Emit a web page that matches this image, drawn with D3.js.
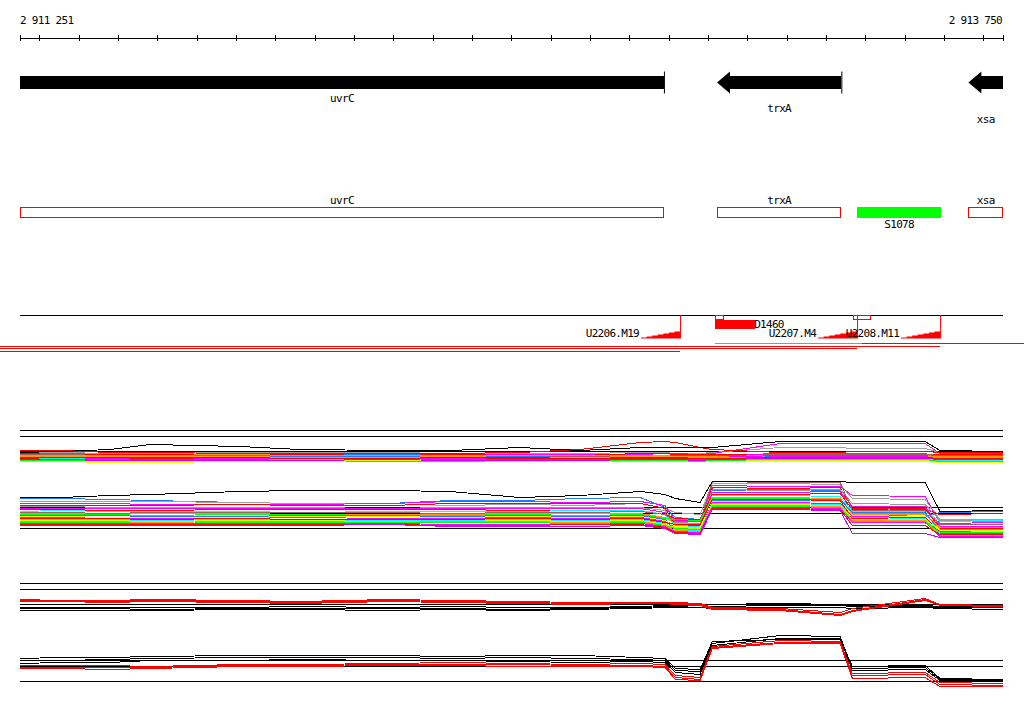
<!DOCTYPE html>
<html>
<head>
<meta charset="utf-8">
<script src="https://cdn.jsdelivr.net/npm/d3@7"></script>
<style>
body { margin: 0; background: #fff; }
text { font-family: "DejaVu Sans Mono", monospace; font-size: 11px; letter-spacing: -0.7px; fill: #000; }
</style>
</head>
<body>
<svg width="1024" height="714"></svg>
<script>
const svg = d3.select("svg")
const width = +svg.attr("width")
const height = +svg.attr("height")

// view window (bp)
const viewStart = 2911251
const viewEnd = 2913750

// annotated genes, all on the minus strand
const geneNames = ["uvrC", "trxA", "xsa"]
const geneStarts = [2909400, 2913023, 2913662]
const geneEnds = [2912888, 2913339, 2914300]

// small RNA / segment features
const featNames = ["S1078"]
const featStarts = [2913379]
const featEnds = [2913593]

// transcription units
const tssNames = ["U2206.M19", "U2207.M4", "U2208.M11"]
const tssPos = [2912929, 2913379, 2913590]
const stairSteps = [1, 2, 3, 4, 5, 6, 7, 7]

const dNames = ["D1460"]
const dStarts = [2913018]
const dEnds = [2913120]
const boxStarts = [2913018, 2913369]
const boxEnds = [2913039, 2913412]

// transcript spans under the track
const spanStarts = [2913018, 2913392, 2910000, 2910000, 2910000]
const spanEnds = [2913392, 2914500, 2913590, 2913379, 2912929]
const spanRows = [0, 0, 1, 2, 3]
const spanColors = ["#00ff00", "#ff0000", "#ff0000", "#ff0000", "#ff0000"]

// probe positions shared by the expression tracks
const probePos = [2911251, 2911353, 2911480, 2911582, 2911810, 2911963, 2912192, 2912344, 2912522, 2912675,
  2912828, 2912891, 2912917, 2912980, 2913011, 2913184, 2913336, 2913367, 2913552, 2913590, 2913750]

const sampleColors = ["#1e7cff", "#a0a0a0", "#ff00ff", "#ff0000", "#999999", "#ff00ff", "#ff0000", "#00ffff",
  "#a06060", "#ff9900", "#00ff00", "#1e7cff", "#ffff00", "#ff00ff", "#ff0000", "#00ffff", "#c8ff00",
  "#ff9900", "#00ff00", "#ff00ff", "#ff0000", "#cc00ff"]

// strand track, one row per sample
const upperSamples = [
  [-2,-2,-3,-3,-4,-3,-3,-4,-3,-3,-4,-4,-4,-4,-3,-5,-5,-5,-5,-4,-4],
  [-1,-1,-2,-2,-1,-1,-1,-2,-2,-2,-1,-1,-2,-2,-1,4,4,3,3,-1,-1],
  [-3,-3,-3,-4,-4,-4,-4,-3,-3,-3,-3,-2,-2,-3,-2,8,8,8,8,-2,-2],
  [1,1,-1,-1,-2,-2,-2,-2,-1,2,9,10,9,4,2,-1,-1,0,0,-1,-1],
  [-4,-4,-4,-5,-5,-5,-5,-5,-4,-4,-4,-4,-5,-5,-4,-3,-3,-3,-4,-5,-5],
  [-5,-5,-5,-5,-6,-6,-6,-6,-5,-5,-5,-5,-5,-5,-4,-2,-2,-2,-2,-6,-6],
  [-2,-3,-3,-3,-3,-3,-2,-3,-4,-4,-2,-2,-3,-3,-3,-4,-4,-4,-3,-3,-3],
  [-6,-6,-6,-6,-7,-7,-7,-7,-6,-6,-6,-6,-7,-7,-6,-6,-6,-6,-6,-7,-7],
  [-3,-3,-4,-4,-4,-4,-5,-5,-5,-5,-5,-5,-6,-6,-5,-3,-3,-3,-3,-4,-4],
  [-4,-4,-4,-4,-3,-4,-4,-4,-4,-4,-4,-4,-5,-5,-5,-4,-4,-5,-5,-5,-5],
  [-8,-8,-8,-9,-8,-8,-9,-9,-9,-8,-8,-8,-8,-8,-8,-9,-9,-9,-9,-9,-9],
  [-5,-5,-6,-6,-6,-5,-5,-5,-5,-6,-6,-6,-6,-6,-6,-7,-7,-7,-7,-8,-8],
  [-10,-10,-11,-11,-10,-10,-9,-9,-10,-10,-10,-10,-10,-10,-9,-10,-10,-10,-10,-11,-11],
  [-7,-7,-7,-7,-7,-8,-8,-7,-7,-7,-7,-7,-6,-6,-6,-4,-4,-4,-4,-7,-7],
  [-6,-6,-6,-7,-6,-6,-6,-6,-7,-7,-7,-7,-7,-7,-7,-7,-7,-7,-7,-8,-8],
  [-7,-7,-8,-8,-8,-8,-7,-8,-8,-8,-8,-8,-8,-8,-8,-8,-8,-8,-8,-9,-9],
  [-9,-9,-10,-10,-9,-9,-9,-10,-10,-9,-9,-9,-9,-9,-9,-9,-9,-9,-9,-10,-10],
  [-5,-5,-5,-5,-5,-6,-6,-5,-6,-6,-5,-5,-5,-6,-6,-6,-6,-5,-5,-6,-6],
  [-9,-9,-9,-8,-9,-9,-10,-10,-9,-9,-9,-9,-9,-10,-9,-8,-8,-8,-8,-10,-10],
  [-8,-8,-8,-8,-8,-7,-7,-8,-8,-8,-8,-8,-8,-8,-8,-5,-5,-5,-5,-8,-8],
  [-7,-6,-6,-6,-6,-7,-7,-6,-6,-7,-6,-6,-6,-7,-7,-6,-6,-6,-6,-7,-7],
  [-8,-8,-9,-9,-9,-9,-8,-9,-9,-9,-8,-8,-8,-9,-8,-7,-7,-7,-7,-8,-8]
]
const upperMax = [-1,0,2,7,5,2,1,1,4,1,4,4,4,4,4,10,10,10,10,1,0]

const lowerSamples = [
  [30,30,29,28,26,25,25,28,28,30,31,21,11,9,38,39,38,14,12,16,17],
  [27,27,27,27,26,25,25,23,24,23,25,20,16,14,45,45,44,30,29,9,9],
  [25,25,25,24,24,24,25,27,27,26,27,23,8,7,43,42,42,33,32,5,6],
  [23,23,23,23,24,23,23,25,25,25,25,20,4,3,41,40,41,20,19,14,15],
  [22,22,21,21,21,21,20,21,21,21,21,18,6,5,39,38,39,25,24,8,7],
  [20,20,20,20,20,20,20,20,20,20,20,16,2,1,36,36,37,22,22,2,2],
  [19,19,18,18,19,19,19,19,18,18,18,14,10,9,34,34,35,19,20,0,0],
  [17,18,17,17,17,16,17,17,17,18,18,14,3,2,33,33,32,17,17,7,8],
  [16,16,15,16,16,16,16,15,16,16,17,14,7,7,47,46,46,18,18,4,4],
  [15,15,14,15,15,14,14,14,15,15,15,11,5,4,31,31,30,14,14,1,1],
  [14,14,14,13,14,14,13,13,14,13,14,10,9,8,30,30,29,15,15,-1,-1],
  [13,13,13,12,12,13,13,12,13,12,13,9,1,0,28,28,29,16,16,-3,-2],
  [12,12,11,11,11,12,12,11,12,11,12,8,2,1,27,27,27,13,12,-2,-3],
  [11,11,10,10,10,11,10,10,11,10,11,7,0,-1,26,26,25,12,11,-5,-5],
  [10,10,10,9,10,9,9,9,10,9,10,6,4,4,29,29,28,10,11,-4,-4],
  [9,9,9,8,9,8,8,8,9,8,9,5,-1,-2,25,25,24,11,10,-6,-6],
  [8,8,8,7,8,8,7,7,8,7,8,4,1,0,24,24,23,9,9,-2,-2],
  [7,7,7,6,7,7,6,7,7,6,7,3,-2,-3,23,23,22,8,8,-7,-7],
  [6,6,6,5,6,6,6,6,6,5,6,3,0,-1,22,22,21,7,7,-4,-4],
  [5,5,5,5,5,5,5,4,4,4,5,2,-3,-4,21,21,20,6,6,-8,-8],
  [4,4,4,4,4,4,4,3,3,4,4,1,-4,-5,20,20,19,3,3,-6,-6],
  [3,3,3,3,3,3,4,2,2,2,3,0,-5,-6,19,19,18,-5,-5,-9,-9]
]
const lowerMax = [31,31,33,34,37,38,38,37,31,33,37,34,30,26,47,47,47,46,46,17,18]

// replicate tracks: wild type (black) vs mutant (red)
const pairUpperBlack = [
  [-3,-3,-3,-3,-3,-2,-3,-2,-3,-3,-2,-1,-1,0,0,1,0,-1,-1,-2,-2],
  [-4,-4,-4,-5,-4,-4,-4,-4,-5,-4,-3,-2,-2,-1,-2,-1,-1,-2,-2,-3,-3],
  [-6,-6,-6,-6,-5,-5,-6,-5,-6,-5,-4,-3,-3,-3,-4,-3,-3,-4,-3,-4,-5]
]
const pairUpperRed = [
  [5,4,4,5,4,3,5,4,3,2,2,2,2,1,-3,-4,-8,-4,6,0,-1],
  [4,3,3,4,3,2,4,3,2,1,2,2,1,0,-4,-5,-10,-6,5,-1,-1],
  [3,3,2,3,2,1,3,2,1,0,1,1,0,-1,-5,-6,-11,-7,4,-1,-2]
]
const pairLowerBlack = [
  [23,24,24,25,26,26,26,25,26,26,24,23,13,12,40,42,42,15,16,3,2],
  [21,21,22,23,24,24,24,23,24,23,22,21,11,10,38,46,45,13,14,2,1],
  [18,19,19,21,21,22,21,21,20,19,20,19,9,7,36,43,43,11,12,1,0]
]
const pairLowerRed = [
  [16,16,16,15,17,17,18,19,18,17,18,17,6,4,35,41,40,8,9,-1,-2],
  [14,14,14,14,16,16,17,17,17,16,16,15,4,2,34,39,39,6,7,-3,-4],
  [13,13,12,13,15,15,16,16,15,15,15,14,2,1,33,38,38,3,4,-5,-5]
]
const refLevels = [0, 15, 21]

const x = d3.scaleLinear().domain([viewStart, viewEnd]).range([20, 1003])
const clampX = v => x(Math.max(viewStart, Math.min(viewEnd, v)))

svg.append("rect").attr("width", width).attr("height", height).attr("fill", "#fff")

// ---- ruler ----
const tickVals = [viewStart, ...d3.range(2911300, viewEnd, 100), viewEnd]
const axis = svg.append("g")
  .attr("transform", "translate(0,35)")
  .call(d3.axisBottom(x).tickValues(tickVals).tickSize(6).tickFormat(""))
axis.select(".domain").remove()
axis.selectAll("line").attr("stroke", "#000").attr("shape-rendering", "crispEdges")
svg.append("line").attr("x1", x(viewStart)).attr("x2", x(viewEnd)).attr("y1", 38.5).attr("y2", 38.5)
  .attr("stroke", "#000")
const fmt = n => d3.format(",")(n).replace(/,/g, " ")
svg.append("text").attr("x", x(viewStart)).attr("y", 24).text(fmt(viewStart))
svg.append("text").attr("x", x(viewEnd) - 1).attr("y", 24).attr("text-anchor", "end").text(fmt(viewEnd))

// ---- gene arrows ----
const genes = geneNames.map((n, i) => ({ name: n, s: geneStarts[i], e: geneEnds[i], i }))
const arrowY = 82.5
genes.forEach(g => {
  const x0 = clampX(g.s), x1 = clampX(g.e)
  const headIn = g.s >= viewStart
  const bx = headIn ? x0 + 13 : x0
  svg.append("rect").attr("x", bx).attr("y", arrowY - 6.5).attr("width", x1 - bx).attr("height", 13)
    .attr("fill", "#000").attr("shape-rendering", "crispEdges")
  if (headIn) {
    svg.append("path")
      .attr("d", `M${x0},${arrowY} L${bx},${arrowY - 11} L${bx},${arrowY + 11} Z`)
      .attr("fill", "#000")
  }
  if (g.e <= viewEnd) {
    svg.append("line").attr("x1", x1 + 0.5).attr("x2", x1 + 0.5).attr("y1", arrowY - 11).attr("y2", arrowY + 11)
      .attr("stroke", "#000")
  }
  svg.append("text").attr("x", (x0 + x1) / 2).attr("y", 101.5 + g.i * 10.5)
    .attr("text-anchor", "middle").text(g.name)
})

// ---- gene outlines ----
genes.forEach(g => {
  const x0 = clampX(g.s), x1 = clampX(g.e)
  svg.append("rect").attr("x", x0 + 0.5).attr("y", 207.5).attr("width", x1 - x0 - 1).attr("height", 10)
    .attr("fill", "none").attr("stroke", "#ff0000").attr("shape-rendering", "crispEdges")
  svg.append("text").attr("x", (x0 + x1) / 2).attr("y", 204).attr("text-anchor", "middle").text(g.name)
})
featNames.forEach((n, i) => {
  const x0 = clampX(featStarts[i]), x1 = clampX(featEnds[i])
  svg.append("rect").attr("x", x0).attr("y", 207).attr("width", x1 - x0).attr("height", 11)
    .attr("fill", "#00ff00").attr("shape-rendering", "crispEdges")
  svg.append("text").attr("x", (x0 + x1) / 2).attr("y", 228).attr("text-anchor", "middle").text(n)
})

// ---- transcription units ----
svg.append("line").attr("x1", 20).attr("x2", 1003).attr("y1", 315.5).attr("y2", 315.5).attr("stroke", "#000")
boxStarts.forEach((s, i) => {
  const x0 = x(s), x1 = x(boxEnds[i])
  svg.append("rect").attr("x", x0 + 0.5).attr("y", 315.5).attr("width", x1 - x0).attr("height", 4)
    .attr("fill", "none").attr("stroke", "#ff0000").attr("shape-rendering", "crispEdges")
})
dNames.forEach((n, i) => {
  const x0 = x(dStarts[i]), x1 = x(dEnds[i])
  svg.append("rect").attr("x", x0).attr("y", 320).attr("width", x1 - x0).attr("height", 9)
    .attr("fill", "#ff0000").attr("shape-rendering", "crispEdges")
  svg.append("text").attr("x", x1 - 1).attr("y", 328).text(n)
})
tssNames.forEach((n, i) => {
  const px = x(tssPos[i])
  const sx = d3.scaleLinear().domain([0, stairSteps.length - 1]).range([px - 39, px])
  const area = d3.area().curve(d3.curveStepAfter)
    .x((d, k) => sx(k)).y0(338.5).y1(d => 338.5 - d)
  svg.append("path").datum(stairSteps).attr("d", area).attr("fill", "#ff0000")
  svg.append("line").attr("x1", px + 0.5).attr("x2", px + 0.5).attr("y1", 315).attr("y2", 338.5)
    .attr("stroke", "#ff0000")
  svg.append("text").attr("x", px - 41).attr("y", 336.5).attr("text-anchor", "end").text(n)
})
spanStarts.forEach((s, i) => {
  const y = 343.5 + [0, 3, 5, 8][spanRows[i]]
  svg.append("line").attr("x1", x(s)).attr("x2", x(spanEnds[i])).attr("y1", y).attr("y2", y)
    .attr("stroke", spanColors[i]).attr("stroke-width", 1.2).attr("shape-rendering", "crispEdges")
})

// ---- expression tracks ----
function drawTrack(top, series, colors) {
  const y = d3.scaleLinear().domain([0, 21]).range([top + 21, top])
  const g = svg.append("g")
  refLevels.forEach(v => {
    g.append("line").attr("x1", 20).attr("x2", 1003).attr("y1", Math.round(y(v)) + 0.5).attr("y2", Math.round(y(v)) + 0.5)
      .attr("stroke", "#000").attr("shape-rendering", "crispEdges")
  })
  const line = d3.line().x((d, i) => x(probePos[i])).y(d => Math.round(y(d)) + 0.5)
  g.selectAll("path.s").data(series).join("path")
    .attr("class", "s")
    .attr("d", line)
    .attr("fill", "none")
    .attr("stroke", (d, i) => colors[i])
    .attr("stroke-width", 1)
    .attr("shape-rendering", "crispEdges")
}

drawTrack(430, [...upperSamples, upperMax], [...sampleColors, "#000"])
drawTrack(507, [...lowerSamples, lowerMax], [...sampleColors, "#000"])
drawTrack(583, [...pairUpperBlack, ...pairUpperRed], ["#000", "#000", "#000", "#ff0000", "#ff0000", "#ff0000"])
drawTrack(660, [...pairLowerBlack, ...pairLowerRed], ["#000", "#000", "#000", "#ff0000", "#ff0000", "#ff0000"])
</script>
</body>
</html>
